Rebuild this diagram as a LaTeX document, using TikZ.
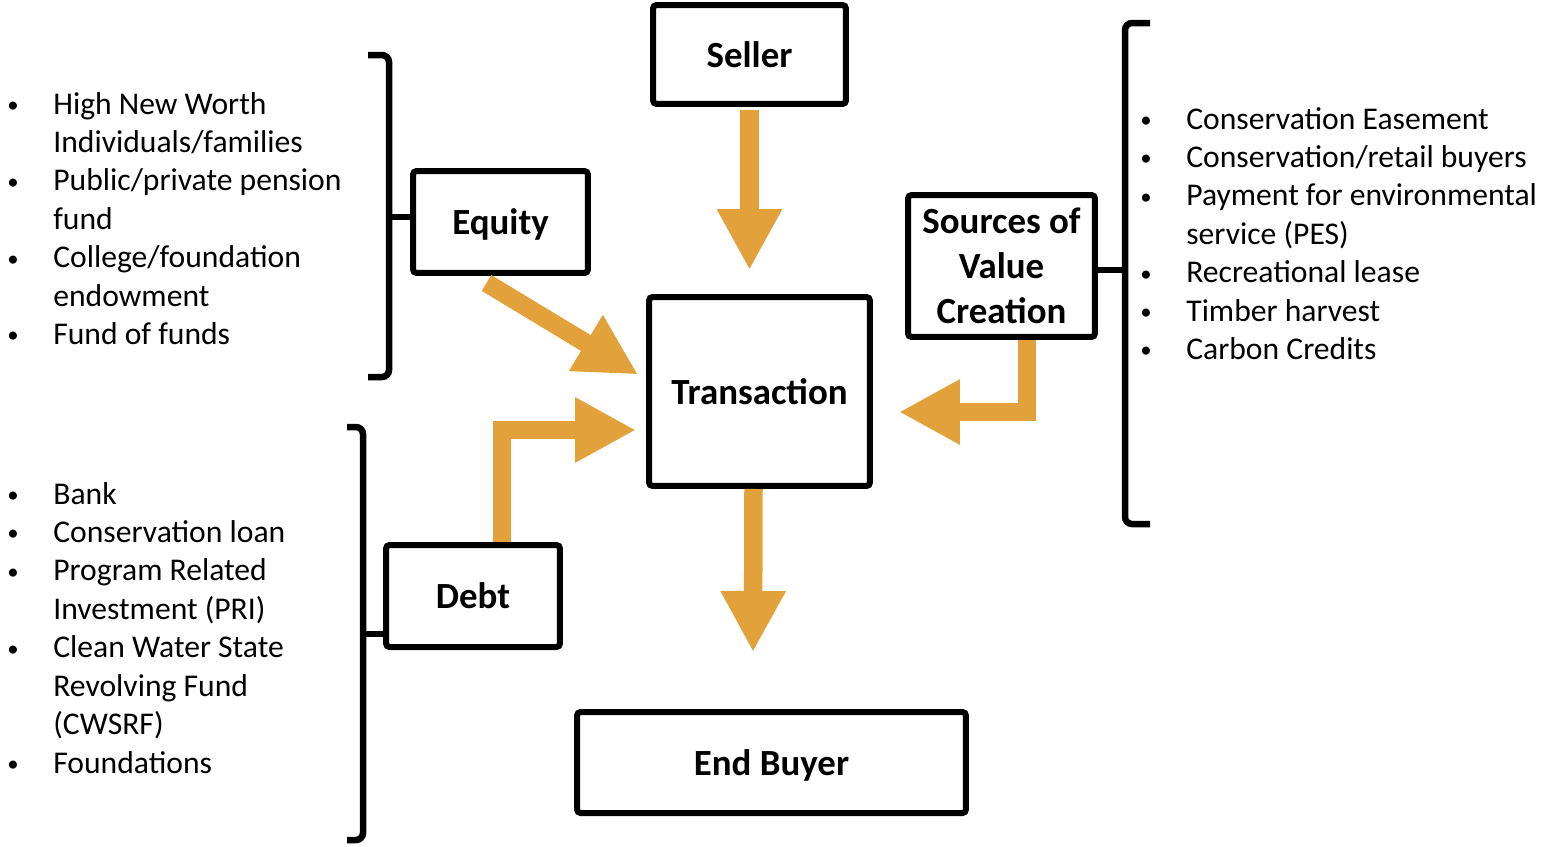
\documentclass[tikz,border=0pt]{standalone}
\usepackage{fontspec}
\setmainfont{Carlito}
\usetikzlibrary{arrows.meta,calc}
\definecolor{flowgold}{RGB}{226,161,59}
\newcommand{\listfont}{\fontsize{18}{21.9}\selectfont}
\newcommand{\boxfont}{\fontsize{21}{25.6}\selectfont\bfseries}
\newcommand{\bul}{\raisebox{0.06em}{\scalebox{0.72}{\textbullet}}}

\begin{document}
\begin{tikzpicture}[x=0.02cm,y=-0.02cm]
	\tikzset{block/.style = {shape=rectangle,draw,line width=0.12cm,rounded corners=2pt,inner sep=0pt,font=\boxfont,align=center}}
	\tikzset{oneline/.style = {text height=18.5pt,text depth=4pt}}
	\tikzset{flow/.style = {draw=flowgold,line width=0.37cm,-{Triangle[length=1.22cm,width=1.22cm]}}}
	\tikzset{brace/.style = {line width=0.13cm,rounded corners=4pt}}
	\tikzset{itemlist/.style = {anchor=base west,inner sep=0pt,font=\listfont}}
	\useasboundingbox (0,0) rectangle (1542,846);
	\node[block,oneline,minimum width=3.86cm,minimum height=1.98cm] (seller) at (749.5,54.5) {Seller};
	\node[block,oneline,minimum width=3.5cm,minimum height=2.04cm] (equity) at (500.5,222) {Equity};
	\node[block,oneline,minimum width=4.42cm,minimum height=3.78cm] (transaction) at (759.5,391.5) {Transaction};
	\node[block,minimum width=3.74cm,minimum height=2.84cm] (sources) at (1001.5,266) {Sources of\\Value\\Creation};
	\node[block,oneline,minimum width=3.48cm,minimum height=2.04cm] (debt) at (473,596) {Debt};
	\node[block,oneline,minimum width=7.78cm,minimum height=2.02cm] (endbuyer) at (771.5,762.5) {End Buyer};
	\node[itemlist] (equitylist) at (7,114) {\begin{tabular}[t]{@{}p{0.92cm}@{}l@{}}
		\bul & High New Worth\\
		& Individuals/families\\
		\bul & Public/private pension\\
		& fund\\
		\bul & College/foundation\\
		& endowment\\
		\bul & Fund of funds
	\end{tabular}};
	\node[itemlist] (debtlist) at (7,504) {\begin{tabular}[t]{@{}p{0.92cm}@{}l@{}}
		\bul & Bank\\
		\bul & Conservation loan\\
		\bul & Program Related\\
		& Investment (PRI)\\
		\bul & Clean Water State\\
		& Revolving Fund\\
		& (CWSRF)\\
		\bul & Foundations
	\end{tabular}};
	\node[itemlist] (valuelist) at (1140,129) {\begin{tabular}[t]{@{}p{0.92cm}@{}l@{}}
		\bul & Conservation Easement\\
		\bul & Conservation/retail buyers\\
		\bul & Payment for environmental\\
		& service (PES)\\
		\bul & Recreational lease\\
		\bul & Timber harvest\\
		\bul & Carbon Credits
	\end{tabular}};
	\draw[brace] (368,55) -- (389,55) -- (389,377) -- (368,377);
	\draw[brace] (389,217) -- (389,217 -| equity.west);
	\draw[brace] (347,427) -- (363,427) -- (363,840) -- (347,840);
	\draw[brace] (363,634) -- (363,634 -| debt.west);
	\draw[brace] (1150,23) -- (1125,23) -- (1125,524) -- (1150,524);
	\draw[brace] (1125,270) -- (1125,270 -| sources.east);
	\draw[flow] ([yshift=-0.06cm]seller.south) -- ($(seller.south |- transaction.north)+(0,-24)$);
	\draw[flow] ($(equity.south)+(-14,7)$) -- ($(transaction.west)+(-8,-17)$);
	\draw[flow] ($(debt.north)+(29,0)$) |- ($(transaction.west)+(-10,38.5)$);
	\draw[flow] ($(sources.south)+(25.5,0)$) |- ($(transaction.east)+(26,20.5)$);
	\draw[flow] ($(transaction.south)+(-6,0)$) -- ($(endbuyer.north)+(-18.5,-57)$);
\end{tikzpicture}
\end{document}
